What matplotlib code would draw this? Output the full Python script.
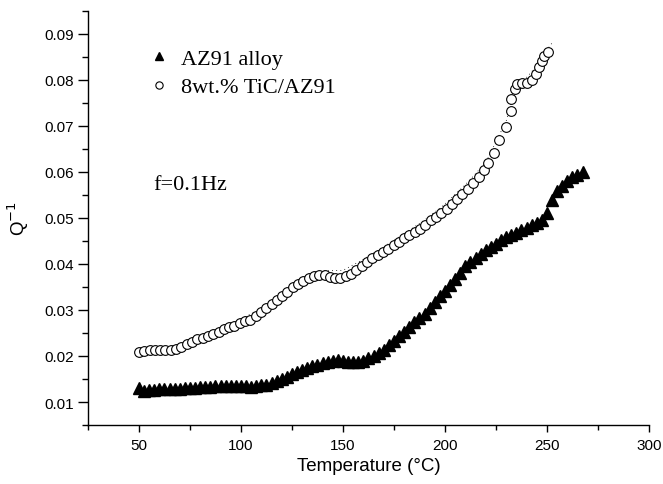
import matplotlib
matplotlib.use("Agg")
import matplotlib.pyplot as plt
from matplotlib.ticker import MultipleLocator

plt.rc('font', family='Liberation Sans', size=11)
plt.rc('axes', linewidth=1.0)

# AZ91 alloy (filled triangles)
t_az91 = [50.0, 52.5, 55.0, 57.5, 60.0, 62.5, 65.0, 67.5, 70.0, 72.5,
          75.0, 77.5, 80.0, 82.5, 85.0, 87.5, 90.0, 92.5, 95.0, 97.5,
          100.0, 102.5, 105.0, 107.5, 110.0, 112.5, 115.0, 117.5, 120.0, 122.5,
          125.0, 127.5, 130.0, 132.5, 135.0, 137.5, 140.0, 142.5, 145.0, 147.5,
          150.0, 152.5, 155.0, 157.5, 160.0, 162.5, 165.0, 167.5, 170.0, 172.5,
          175.0, 177.5, 180.0, 182.5, 185.0, 187.5, 190.0, 192.5, 195.0, 197.5,
          200.0, 202.5, 205.0, 207.5, 210.0, 212.5, 215.0, 217.5, 220.0, 222.5,
          225.0, 227.5, 230.0, 232.5, 235.0, 237.5, 240.0, 242.5, 245.0, 247.5,
          250.0, 252.5, 255.0, 257.5, 260.0, 262.5, 265.0, 267.5]
q_az91 = [0.0131, 0.0124, 0.0127, 0.0127, 0.0128, 0.0128, 0.0128, 0.0129, 0.0129, 0.0130,
          0.0130, 0.0131, 0.0132, 0.0132, 0.0133, 0.0134, 0.0135, 0.0135, 0.0134, 0.0135,
          0.0135, 0.0134, 0.0133, 0.0134, 0.0136, 0.0138, 0.0141, 0.0145, 0.0150, 0.0155,
          0.0160, 0.0166, 0.0170, 0.0174, 0.0178, 0.0181, 0.0184, 0.0187, 0.0190, 0.0191,
          0.0190, 0.0188, 0.0187, 0.0187, 0.0190, 0.0196, 0.0201, 0.0206, 0.0214, 0.0223,
          0.0233, 0.0243, 0.0253, 0.0264, 0.0273, 0.0282, 0.0292, 0.0305, 0.0318, 0.0330,
          0.0342, 0.0354, 0.0367, 0.0380, 0.0395, 0.0404, 0.0412, 0.0421, 0.0430, 0.0437,
          0.0444, 0.0451, 0.0458, 0.0463, 0.0468, 0.0474, 0.0479, 0.0484, 0.0489, 0.0496,
          0.0510, 0.0538, 0.0558, 0.0570, 0.0580, 0.0588, 0.0594, 0.0599]

# 8wt.% TiC/AZ91 (open circles)
t_tic = [50.0, 52.6, 55.2, 57.8, 60.4, 63.0, 65.6, 68.2, 70.8, 73.4,
         76.0, 78.6, 81.2, 83.8, 86.4, 89.0, 91.6, 94.2, 96.8, 99.4,
         102.0, 104.6, 107.2, 109.8, 112.4, 115.0, 117.6, 120.2, 122.8, 125.4,
         128.0, 130.6, 133.2, 135.8, 138.4, 141.0, 143.6, 146.2, 148.8, 151.4,
         154.0, 156.6, 159.2, 161.8, 164.4, 167.0, 169.6, 172.2, 174.8, 177.4,
         180.0, 182.6, 185.2, 187.8, 190.4, 193.0, 195.6, 198.2, 200.8, 203.4,
         206.0, 208.6, 211.2, 213.8, 216.5, 219.0, 221.3, 224.2, 226.6, 229.8,
         232.2, 232.6, 234.3, 235.5, 237.6, 240.4, 242.5, 244.6, 246.3, 247.7,
         248.5, 250.6]
q_tic = [0.0209, 0.0211, 0.0212, 0.0212, 0.0212, 0.0213, 0.0213, 0.0215, 0.0219, 0.0225,
         0.0231, 0.0236, 0.0240, 0.0244, 0.0248, 0.0253, 0.0258, 0.0262, 0.0266, 0.0271,
         0.0275, 0.0279, 0.0287, 0.0295, 0.0305, 0.0313, 0.0322, 0.0330, 0.0339, 0.0349,
         0.0357, 0.0363, 0.0369, 0.0374, 0.0377, 0.0375, 0.0371, 0.0370, 0.0370, 0.0373,
         0.0379, 0.0387, 0.0396, 0.0405, 0.0414, 0.0420, 0.0426, 0.0433, 0.0441, 0.0448,
         0.0456, 0.0463, 0.0470, 0.0477, 0.0484, 0.0495, 0.0503, 0.0511, 0.0520, 0.0531,
         0.0542, 0.0553, 0.0563, 0.0575, 0.0590, 0.0604, 0.0620, 0.0642, 0.0669, 0.0698,
         0.0733, 0.0758, 0.0780, 0.0791, 0.0794, 0.0793, 0.0800, 0.0812, 0.0827, 0.0841,
         0.0851, 0.0861]

# faint dotted trace just above the open circles
t_dots = [50, 70, 90, 110, 130, 140, 150, 160, 170, 180,
          190, 200, 210, 220, 230, 235, 240, 245, 250, 253]
q_dots = [0.0213, 0.0222, 0.0260, 0.0302, 0.0365, 0.0385, 0.0386, 0.0410, 0.0437, 0.0466,
          0.0495, 0.0530, 0.0572, 0.0620, 0.0710, 0.0790, 0.0805, 0.0830, 0.0865, 0.0883]

fig = plt.figure(figsize=(6.63, 4.85), dpi=100)
ax = fig.add_axes([0.1327, 0.1216, 0.846, 0.854])

ax.plot(t_dots, q_dots, color='k', linestyle=(0, (1, 4)), linewidth=0.6)
ax.plot(t_az91, q_az91, linestyle='none', marker='^', ms=8, color='k',
        label='AZ91 alloy')
ax.plot(t_tic, q_tic, linestyle='none', marker='o', ms=7, mfc='white',
        mec='k', mew=0.8, label='8wt.% TiC/AZ91')

ax.set_xlim(25, 300)
ax.set_ylim(0.005, 0.095)
ax.xaxis.set_major_locator(MultipleLocator(50))
ax.xaxis.set_minor_locator(MultipleLocator(25))
ax.yaxis.set_major_locator(MultipleLocator(0.01))
ax.yaxis.set_minor_locator(MultipleLocator(0.005))
ax.yaxis.set_major_formatter(plt.FormatStrFormatter('%.2f'))

for side in ('top', 'right'):
    ax.spines[side].set_visible(False)
ax.tick_params(axis='x', which='major', direction='out', length=5, width=1, pad=4)
ax.tick_params(axis='x', which='minor', direction='out', length=3.5, width=1)
ax.tick_params(axis='y', which='major', direction='out', length=7, width=1, pad=3)
ax.tick_params(axis='y', which='minor', direction='out', length=4.5, width=1)

ax.set_xlabel('Temperature (\u00b0C)', fontsize=13.5, labelpad=4)
ax.set_ylabel('Q$^{-1}$', fontsize=13.5, labelpad=10)

ax.legend(loc='upper left', bbox_to_anchor=(0.11, 0.909), frameon=False,
          prop={'family': 'Liberation Serif', 'size': 16}, handlelength=0.8,
          handletextpad=0.6, labelspacing=0.35, borderpad=0, borderaxespad=0,
          markerscale=0.75)
ax.text(57, 0.0573, 'f=0.1Hz', fontsize=16, family='Liberation Serif',
        ha='left', va='center')

fig.savefig('out.png', dpi=100)
